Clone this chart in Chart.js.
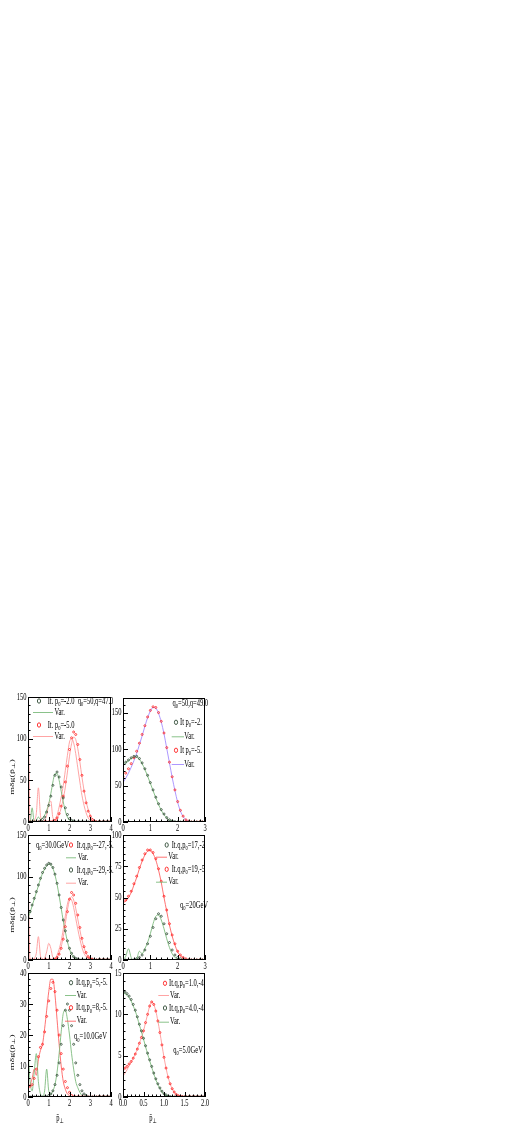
<!DOCTYPE html>
<html>
<head>
<meta charset="utf-8">
<script src="https://cdn.jsdelivr.net/npm/chart.js@4.4.0/dist/chart.umd.min.js"></script>
<style>
  html, body { margin: 0; padding: 0; background: #fff; width: 518px; height: 1144px; overflow: hidden; }
  body { position: relative; }
</style>
</head>
<body>
<script>
// x grids (p-bar-perp values where the curves were read)
const xs4 = [0,0.1,0.2,0.3,0.4,0.5,0.6,0.7,0.8,0.9,1,1.1,1.2,1.3,1.4,1.5,1.6,1.7,1.8,1.9,2,2.1,2.2,2.3,2.4,2.5,2.6,2.7,2.8,2.9,3,3.1,3.2,3.3,3.4,3.5,3.6,3.7,3.8,3.9,4];
const xs3 = [0,0.1,0.2,0.3,0.4,0.5,0.6,0.7,0.8,0.9,1,1.1,1.2,1.3,1.4,1.5,1.6,1.7,1.8,1.9,2,2.1,2.2,2.3,2.4,2.5,2.6,2.7,2.8,2.9,3];
const xs2 = [0,0.05,0.1,0.15,0.2,0.25,0.3,0.35,0.4,0.45,0.5,0.55,0.6,0.65,0.7,0.75,0.8,0.85,0.9,0.95,1,1.05,1.1,1.15,1.2,1.25,1.3,1.35,1.4,1.45,1.5,1.55,1.6,1.65,1.7,1.75,1.8,1.85,1.9,1.95,2];

// panel 1: q0=50, q=47.0
const p1Dark  = [0,0,0,0,0,0, 1,3,6,12,20,31,44,56,60,54,42,29,17,9,4,2,1, 0,0,0,0,0,0,0,0,0,0, 0,0,0,0,0,0,0,0];
const p1Green = [0,0,17,0,2,6,3,5,8,14,22,34,48,58,58,50,37,24,13,6,2,1, 0,0,0,0,0,0,0,0,0,0, 0,0,0,0,0,0,0,0,0];
const p1Red   = [0,0,0,0,0,0,0,0,0,0,0,0, 1,2,5,10,19,31,48,67,87,101,108,105,93,75,56,37,23,13,7,3,1, 0,0,0,0,0,0,0,0];
const p1Pink  = [160,0,0,2,10,41,8,0,2,8,22,25,5,3,8,18,30,44,62,80,96,100,95,82,65,48,32,20,11,5,2,1, 0,0,0,0,0,0,0,0,0];
const p1Pink2 = [0,0,0,0,0,0,0,0,0,0,0,0,0,0, 4,9,17,28,42,60,79,94,102,99,88,72,54,38,25,15,8,4,2,1, 0,0,0,0,0,0,0];

// panel 2: q0=50, q=49.0
const p2Dark   = [79,82,85,88,90,90,87,81,73,64,54,44,34,25,17,11,6,3,1.5,0.5, 0,0,0,0,0,0,0,0,0,0,0];
const p2Green  = [78,81,84,87,89,89,86,80,72,63,53,43,33,24,16,10,5.5,2.5,1,0.4, 0,0,0,0,0,0,0,0,0,0,0];
const p2Red    = [62,67,73,80,88,97,108,120,132,144,153,158,157,150,138,122,102,82,62,44,28,16,8,3,1, 0,0,0,0,0,0];
const p2Violet = [54,60,67,75,84,94,106,118,131,143,152,157,156,149,137,121,101,81,61,43,27,15,7.5,3,1, 0,0,0,0,0,0];

// panel 3: q0=30.0GeV
const p3Dark  = [51,58,66,74,82,90,98,105,110,114,116,115,111,103,92,78,63,48,35,23,14,8,4,2,1, 0,0,0,0,0,0,0,0,0,0,0,0,0,0,0,0];
const p3Green = [50,57,65,73,81,89,97,104,109,113,115,114,110,102,91,77,62,47,34,22,13,7,3.5,1.5,0.5, 0,0,0,0,0,0,0,0,0,0,0,0,0,0,0,0];
const p3Red   = [0,0,0,0,0,0,0,0,0,0,0,0,0, 1,3,7,14,25,40,58,73,81,78,68,54,39,26,16,9,4,2,1, 0,0,0,0,0,0,0,0,0];
const p3Pink  = [110,0,0,2,8,28,5,0,2,10,20,14,3,2,6,13,23,37,53,67,74,72,63,50,37,25,15,8,4,2,1, 0,0,0,0,0,0,0,0,0,0];
const p3Pink2 = [0,0,0,0,0,0,0,0,0,0,0,0,0,0, 3,8,16,28,44,60,72,76,72,62,49,36,24,15,8,4,2,1, 0,0,0,0,0,0,0,0,0];

// panel 4: q0=20GeV
const p4Dark    = [0,0,0,0,0, 1,2,4,8,13,19,26,33,37,35,29,21,14,8,4,2,1, 0,0,0,0,0,0,0,0,0];
const p4Red     = [47,48,51,55,61,67,74,80,85,88,88,86,81,73,63,51,40,29,20,13,7,4,2,1, 0,0,0,0,0,0,0];
const p4Green   = [0,3,9,2,0,1,7,5,9,14,21,29,35,36,32,25,17,10,5,2,1, 0,0,0,0,0,0,0,0,0,0];
const p4RedLine = [46,47,50,54,60,66,73,79,84,87,87.5,85,80,72,62,50,39,28,19,12,6.5,3.5,1.5,0.5, 0,0,0,0,0,0,0];

// panel 5: q0=10.0GeV
const p5Dark    = [0,0,0,0,0,0,0,0,0,0, 0.5,1,2,4,7,11,17,23,28,30,28,23,17,11,7,4,2,1,0.5, 0,0,0,0,0,0,0,0,0,0,0,0];
const p5Green   = [15,5,2,8,14,5,1,0,2,9,2,1,2,4,8,14,21,27,28,25,20,14,9,5,3,1.5,0.5, 0,0,0,0,0,0,0,0,0,0,0,0,0,0];
const p5Red     = [3,3.5,4,6,9,13,16,17,21,26,31,35,37,34,28,20,14,9,5,3,1.5,0.5, 0,0,0,0,0,0,0,0,0,0,0,0,0,0,0,0,0,0,0];
const p5RedLine = [3,4,6,9,7,12,15,17,22,28,34,38,38,33,25,17,10,5,2.5,1,0.5, 0,0,0,0,0,0,0,0,0,0,0,0,0,0,0,0,0,0,0,0];

// panel 6: q0=5.0GeV
const p6Dark  = [12.8,12.7,12.5,12.2,11.8,11.2,10.5,9.7,8.8,8.0,7.1,6.2,5.3,4.5,3.7,2.9,2.2,1.6,1.1,0.7,0.4,0.25,0.1,0.05, 0,0,0,0,0,0,0,0,0,0,0,0,0,0,0,0,0];
const p6Green = [12.6,12.5,12.3,12.0,11.6,11.0,10.4,9.6,8.7,7.9,7.0,6.1,5.2,4.4,3.6,2.8,2.1,1.5,1.0,0.6,0.35,0.2,0.1,0.05, 0,0,0,0,0,0,0,0,0,0,0,0,0,0,0,0,0];
const p6Red   = [3.3,3.5,3.7,4.0,4.3,4.7,5.2,5.8,6.5,7.2,8.0,9.0,10.0,11.0,11.5,11.2,10.4,9.2,7.8,6.3,4.8,3.5,2.4,1.6,1.0,0.6,0.3,0.15,0.1,0.05, 0,0,0,0,0,0,0,0,0,0,0];
const p6Pink  = [2.5,2.9,3.3,3.8,4.2,4.7,5.2,5.8,6.5,7.2,8.0,9.0,10.0,11.0,11.5,11.2,10.4,9.2,7.8,6.3,4.8,3.5,2.4,1.6,1.0,0.6,0.3,0.15,0.1,0.05, 0,0,0,0,0,0,0,0,0,0,0];

// tick labels
const xTicks4 = [0, 1, 2, 3, 4];
const xTicks3 = [0, 1, 2, 3];
const xTicks2 = [0, 0.5, 1, 1.5, 2];
const xLabels2 = ['0.0', '0.5', '1.0', '1.5', '2.0'];
const yTicks150 = [0, 50, 100, 150];
const yTicks100 = [0, 25, 50, 75, 100];
const yTicks40 = [0, 10, 20, 30, 40];
const yTicks15 = [0, 5, 10, 15];

const DARK = '#2f4a34', RED = '#ff1f1f', GREEN = '#7dbb7d', PINK = '#ff9a9a', VIOLET = '#a48cff', REDLINE = '#ff6262';
const SQ = 0.65;   // the original figure is squeezed horizontally
const SERIF = '"Liberation Serif", "DejaVu Serif", serif';
const PAD = { left: 30, top: 8, right: 9, bottom: 28 };

// text with _{sub} parts, squeezed like the source
function drawRich(ctx, str, x, y, align, size, rot) {
  size = size || 10;
  const parts = str.split(/(_\{[^}]*\})/).filter(Boolean).map(s =>
    s.startsWith('_{') ? { t: s.slice(2, -1), sub: true } : { t: s, sub: false });
  const fnt = p => (p.sub ? size * 0.7 : size) + 'px ' + SERIF;
  let w = 0;
  parts.forEach(p => { ctx.font = fnt(p); p.w = ctx.measureText(p.t).width; w += p.w; });
  ctx.save();
  ctx.translate(x, y);
  if (rot) { ctx.rotate(-Math.PI / 2); ctx.scale(1, SQ); } else ctx.scale(SQ, 1);
  let cx = align === 'right' ? -w : align === 'center' ? -w / 2 : 0;
  ctx.textBaseline = 'middle';
  ctx.textAlign = 'left';
  parts.forEach(p => { ctx.font = fnt(p); ctx.fillText(p.t, cx, p.sub ? size * 0.3 : 0); cx += p.w; });
  ctx.restore();
}

const decor = {
  id: 'decor',
  afterDatasetsDraw(chart, args, o) {
    const ctx = chart.ctx, a = chart.chartArea, sx = chart.scales.x, sy = chart.scales.y;
    ctx.save();
    ctx.strokeStyle = '#000';
    ctx.lineWidth = 1;
    ctx.strokeRect(a.left + 0.5, a.top + 0.5, a.right - a.left - 1, a.bottom - a.top - 1);
    const minor = (t, sc) => { const st = (t[1] - t[0]) / 5, out = []; for (let v = sc.min; v <= sc.max + 1e-9; v += st) out.push(v); return out; };
    ctx.beginPath();
    o.xTicks.forEach(v => { const px = Math.round(sx.getPixelForValue(v)) + 0.5; ctx.moveTo(px, a.bottom); ctx.lineTo(px, a.bottom - 5); });
    minor(o.xTicks, sx).forEach(v => { const px = Math.round(sx.getPixelForValue(v)) + 0.5; ctx.moveTo(px, a.bottom); ctx.lineTo(px, a.bottom - 2.5); });
    o.yTicks.forEach(v => { const py = Math.round(sy.getPixelForValue(v)) + 0.5; ctx.moveTo(a.left, py); ctx.lineTo(a.left + 5, py); });
    minor(o.yTicks, sy).forEach(v => { const py = Math.round(sy.getPixelForValue(v)) + 0.5; ctx.moveTo(a.left, py); ctx.lineTo(a.left + 2.5, py); });
    ctx.stroke();
    ctx.fillStyle = '#000';
    o.xTicks.forEach((v, i) => drawRich(ctx, o.xLabels ? o.xLabels[i] : String(v), sx.getPixelForValue(v), a.bottom + 6, 'center'));
    o.yTicks.forEach(v => drawRich(ctx, String(v), a.left - 1.5, sy.getPixelForValue(v), 'right'));
    o.legend.forEach(e => {
      ctx.strokeStyle = e.color;
      ctx.lineWidth = 0.9;
      ctx.beginPath();
      if (e.kind === 'm') ctx.ellipse(a.left + e.mx, a.top + e.y, 1.6, 2.2, 0, 0, 2 * Math.PI);
      else { ctx.moveTo(a.left + e.x1, a.top + e.y + 0.5); ctx.lineTo(a.left + e.x2, a.top + e.y + 0.5); }
      ctx.stroke();
      ctx.fillStyle = '#000';
      drawRich(ctx, e.text, a.left + e.tx, a.top + e.y, 'left');
    });
    o.notes.forEach(n => drawRich(ctx, n.t, a.left + n.x, a.top + n.y, n.align || 'left', 10, n.rot));
    ctx.restore();
  }
};

function mk(label, xs, ys, color) {
  return { label, data: xs.map((x, i) => ({ x, y: ys[i] })), showLine: false, pointStyle: 'circle',
    pointRadius: 1.0, pointBorderWidth: 0.8, borderColor: color, pointBorderColor: color,
    backgroundColor: 'rgba(0,0,0,0)', pointBackgroundColor: 'rgba(0,0,0,0)' };
}
function ln(label, xs, ys, color) {
  return { label, data: xs.map((x, i) => ({ x, y: ys[i] })), borderColor: color, borderWidth: 0.9,
    pointRadius: 0, cubicInterpolationMode: 'monotone', fill: false };
}

const yTitle = h => ({ t: 'm\u03b4g(p\u0304_{\u22a5})', x: -16, y: h * 0.64, align: 'center', rot: true });
const xTitle = (h, x) => ({ t: 'p\u0304_{\u22a5}', x: x, y: h + 21, align: 'center' });

const panels = [
  { box: { left: 28, top: 697, w: 83, h: 125 }, x: [0, 4], y: [0, 150], xTicks: xTicks4, yTicks: yTicks150,
    datasets: [mk('It. p0=-2.0', xs4, p1Dark, DARK), mk('It. p0=-5.0', xs4, p1Red, RED), ln('Var.', xs4, p1Green, GREEN), ln('Var.', xs4, p1Pink, PINK), ln('Var.', xs4, p1Pink2, PINK)],
    legend: [
      { kind: 'm', color: DARK, text: 'It. p_{0}=-2.0', y: 4, mx: 11, tx: 19.7 },
      { kind: 'l', color: GREEN, text: 'Var.', y: 15, x1: 5, x2: 25, tx: 26.5 },
      { kind: 'm', color: RED, text: 'It. p_{0}=-5.0', y: 28, mx: 11, tx: 19.7 },
      { kind: 'l', color: PINK, text: 'Var.', y: 39, x1: 5, x2: 25, tx: 26.5 }],
    notes: [{ t: 'q_{0}=50,q=47.0', x: 49.7, y: 4 }, yTitle(125)] },
  { box: { left: 123, top: 698, w: 82, h: 124 }, x: [0, 3], y: [0, 170], xTicks: xTicks3, yTicks: yTicks150,
    datasets: [mk('It p0=-2.', xs3, p2Dark, DARK), mk('It p0=-5.', xs3, p2Red, RED), ln('Var.', xs3, p2Green, GREEN), ln('Var.', xs3, p2Violet, VIOLET)],
    legend: [
      { kind: 'm', color: DARK, text: 'It p_{0}=-2.', y: 24.3, mx: 53, tx: 57 },
      { kind: 'l', color: GREEN, text: 'Var.', y: 38.3, x1: 48.7, x2: 61, tx: 61.3 },
      { kind: 'm', color: RED, text: 'It p_{0}=-5.', y: 52.3, mx: 53, tx: 57 },
      { kind: 'l', color: VIOLET, text: 'Var.', y: 66, x1: 48.7, x2: 61, tx: 61.3 }],
    notes: [{ t: 'q_{0}=50,q=49.0', x: 49.5, y: 5 }] },
  { box: { left: 28, top: 835, w: 83, h: 125 }, x: [0, 4], y: [0, 150], xTicks: xTicks4, yTicks: yTicks150,
    datasets: [mk('It.q,p0=-29,-5.', xs4, p3Dark, DARK), mk('It.q,p0=-27,-5.', xs4, p3Red, RED), ln('Var.', xs4, p3Green, GREEN), ln('Var.', xs4, p3Pink, PINK), ln('Var.', xs4, p3Pink2, PINK)],
    legend: [
      { kind: 'm', color: RED, text: 'It.q,p_{0}=-27,-5.', y: 10, mx: 43, tx: 48.7 },
      { kind: 'l', color: GREEN, text: 'Var.', y: 22.3, x1: 38, x2: 48, tx: 50 },
      { kind: 'm', color: DARK, text: 'It.q,p_{0}=-29,-5.', y: 35, mx: 43, tx: 48.7 },
      { kind: 'l', color: PINK, text: 'Var.', y: 47.7, x1: 38, x2: 48, tx: 50 }],
    notes: [{ t: 'q_{0}=30.0GeV', x: 8, y: 10 }, yTitle(125)] },
  { box: { left: 123, top: 835, w: 82, h: 125 }, x: [0, 3], y: [0, 100], xTicks: xTicks3, yTicks: yTicks100,
    datasets: [mk('It.q,p0=17,-2', xs3, p4Dark, DARK), mk('It.q,p0=19,-5', xs3, p4Red, RED), ln('Var.', xs3, p4Green, GREEN), ln('Var.', xs3, p4RedLine, REDLINE)],
    legend: [
      { kind: 'm', color: DARK, text: 'It.q,p_{0}=17,-2', y: 10, mx: 43.7, tx: 48.7 },
      { kind: 'l', color: REDLINE, text: 'Var.', y: 21.7, x1: 33, x2: 44, tx: 45.3 },
      { kind: 'm', color: RED, text: 'It.q,p_{0}=19,-5', y: 34.3, mx: 43.7, tx: 48.7 },
      { kind: 'l', color: GREEN, text: 'Var.', y: 46.7, x1: 33, x2: 44, tx: 45.3 }],
    notes: [{ t: 'q_{0}=20GeV', x: 57, y: 70 }] },
  { box: { left: 28, top: 973, w: 83, h: 124 }, x: [0, 4], y: [0, 40], xTicks: xTicks4, yTicks: yTicks40,
    datasets: [mk('It.q,p0=5,-5.', xs4, p5Dark, DARK), mk('It.q,p0=8,-5.', xs4, p5Red, RED), ln('Var.', xs4, p5Green, GREEN), ln('Var.', xs4, p5RedLine, REDLINE)],
    legend: [
      { kind: 'm', color: DARK, text: 'It.q,p_{0}=5,-5.', y: 9.7, mx: 43, tx: 48 },
      { kind: 'l', color: GREEN, text: 'Var.', y: 22, x1: 37, x2: 48, tx: 48.7 },
      { kind: 'm', color: RED, text: 'It.q,p_{0}=8,-5.', y: 34.7, mx: 43, tx: 48 },
      { kind: 'l', color: REDLINE, text: 'Var.', y: 47.7, x1: 37, x2: 48, tx: 48.7 }],
    notes: [{ t: 'q_{0}=10.0GeV', x: 46, y: 63.7 }, yTitle(124), xTitle(124, 32)] },
  { box: { left: 123, top: 973, w: 82, h: 124 }, x: [0, 2], y: [0, 15], xTicks: xTicks2, xLabels: xLabels2, yTicks: yTicks15,
    datasets: [mk('It.q,p0=4.0,-4.', xs2, p6Dark, DARK), mk('It.q,p0=1.0,-4.', xs2, p6Red, RED), ln('Var.', xs2, p6Green, GREEN), ln('Var.', xs2, p6Pink, PINK)],
    legend: [
      { kind: 'm', color: RED, text: 'It.q,p_{0}=1.0,-4.', y: 10.3, mx: 42, tx: 46 },
      { kind: 'l', color: PINK, text: 'Var.', y: 22, x1: 35.3, x2: 46, tx: 47 },
      { kind: 'm', color: DARK, text: 'It.q,p_{0}=4.0,-4.', y: 35, mx: 42, tx: 46 },
      { kind: 'l', color: GREEN, text: 'Var.', y: 48.7, x1: 35.3, x2: 46, tx: 47 }],
    notes: [{ t: 'q_{0}=5.0GeV', x: 50.3, y: 77 }, xTitle(124, 30)] }
];

panels.forEach(p => {
  const b = p.box;
  const holder = document.createElement('div');
  holder.style.cssText = 'position:absolute;left:' + (b.left - PAD.left) + 'px;top:' + (b.top - PAD.top) + 'px;';
  const cv = document.createElement('canvas');
  cv.width = b.w + PAD.left + PAD.right;
  cv.height = b.h + PAD.top + PAD.bottom;
  holder.appendChild(cv);
  document.body.appendChild(holder);
  new Chart(cv, {
    type: 'line',
    data: { datasets: p.datasets },
    options: {
      responsive: false,
      animation: false,
      layout: { padding: PAD },
      scales: {
        x: { type: 'linear', display: false, min: p.x[0], max: p.x[1] },
        y: { type: 'linear', display: false, min: p.y[0], max: p.y[1] }
      },
      plugins: {
        legend: { display: false },
        tooltip: { enabled: false },
        decor: { xTicks: p.xTicks, xLabels: p.xLabels, yTicks: p.yTicks, legend: p.legend, notes: p.notes }
      }
    },
    plugins: [decor]
  });
});
</script>
</body>
</html>
